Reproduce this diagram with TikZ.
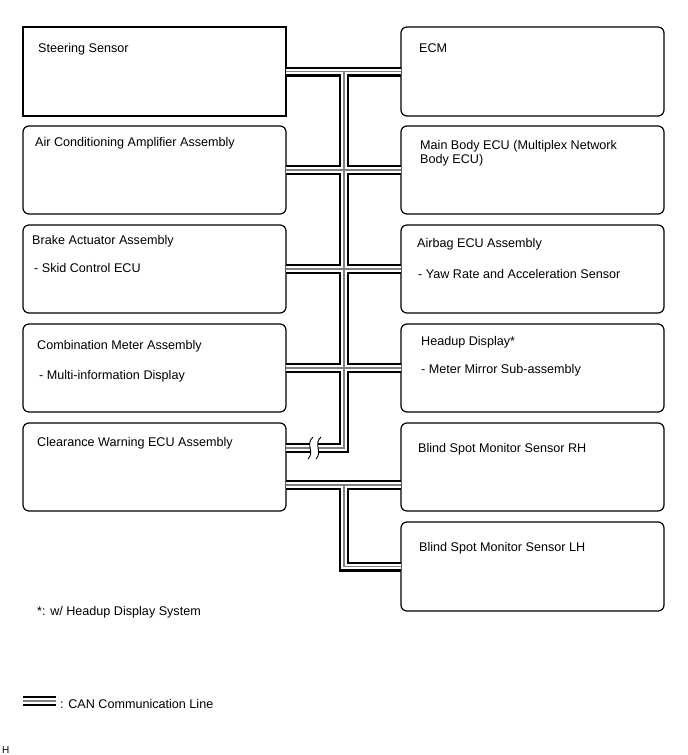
\documentclass[tikz,border=0pt]{standalone}
\usepackage{fontspec}
\setmainfont{Liberation Sans}
\begin{document}
\begin{tikzpicture}[x=1pt,y=-1pt,
  box/.style={draw=black, line width=1.2pt, rounded corners=6pt, minimum width=263pt, minimum height=88pt, inner sep=0pt, outer sep=0pt},
  sharpbox/.style={box, sharp corners, line width=1.1pt},
  txt/.style={anchor=base west, inner sep=0pt, font=\fontsize{12.6}{14}\selectfont},
  small/.style={anchor=base west, inner sep=0pt, font=\fontsize{10}{12}\selectfont},
  brk/.style={line width=0.9pt, black}
]
\useasboundingbox (0,0) rectangle (688,755);
% left boxes
\node[sharpbox, minimum height=89pt] (steer) at (154.5,71.5) {};
\node[box] (aircon) at (154.5,170) {};
\node[box] (brake) at (154.5,269) {};
\node[box] (combi) at (154.5,368) {};
\node[box] (clear) at (154.5,467) {};
% right boxes
\node[box, minimum height=89pt] (ecm) at (532.5,71.5) {};
\node[box] (mainbody) at (532.5,170) {};
\node[box] (airbag) at (532.5,269) {};
\node[box] (headup) at (532.5,368) {};
\node[box] (bsmrh) at (532.5,467) {};
\node[box, minimum height=89pt] (bsmlh) at (532.5,566.5) {};
% texts
\node[txt] (t1) at (38,52) {Steering Sensor};
\node[txt] (t2) at (35,146) {Air Conditioning Amplifier Assembly};
\node[txt] (t3) at (32,244) {Brake Actuator Assembly};
\node[txt] (t3b) at (34,272) {- Skid Control ECU};
\node[txt] (t4) at (37,349) {Combination Meter Assembly};
\node[txt] (t4b) at (39,379) {- Multi-information Display};
\node[txt] (t5) at (37,446) {Clearance Warning ECU Assembly};
\node[txt] (r1) at (419,52) {ECM};
\node[txt] (r2) at (420,149) {Main Body ECU (Multiplex Network};
\node[txt] (r2b) at (420,163) {Body ECU)};
\node[txt] (r3) at (417,247) {Airbag ECU Assembly};
\node[txt] (r3b) at (418,278) {- Yaw Rate and Acceleration Sensor};
\node[txt] (r4) at (421,345) {Headup Display*};
\node[txt] (r4b) at (421,373) {- Meter Mirror Sub-assembly};
\node[txt] (r5) at (418,452) {Blind Spot Monitor Sensor RH};
\node[txt] (r6) at (419,551) {Blind Spot Monitor Sensor LH};
\node[txt] (note) at (37,615) {*: w/ Headup Display System};
\node[txt] (leg) at (60,708) {: CAN Communication Line};
\node[small] (hh) at (2,753) {H};
% bus coordinates
\coordinate (j1) at (344,71.5);
\coordinate (j5) at (344,448);
\coordinate (c1) at (clear.east |- j5);
\coordinate (k1) at (344,485);
\coordinate (k2) at (344,566.5);
\coordinate (lg1) at (23,701);
\coordinate (lg2) at (56,701);
% bus lines, layered
\foreach \w/\c in {10/black,5.5/white,1.1/gray}{
  \draw[line width=\w pt, draw=\c] (steer.east) -- (ecm.west);
  \draw[line width=\w pt, draw=\c] (aircon.east) -- (mainbody.west);
  \draw[line width=\w pt, draw=\c] (brake.east) -- (airbag.west);
  \draw[line width=\w pt, draw=\c] (combi.east) -- (headup.west);
  \draw[line width=\w pt, draw=\c] (j1) -- (j5) -- (c1);
  \draw[line width=\w pt, draw=\c] (clear.east |- k1) -- (bsmrh.west |- k1);
  \draw[line width=\w pt, draw=\c] (k1) -- (k2) -- (bsmlh.west);
  \draw[line width=\w pt, draw=\c] (lg1) -- (lg2);
}
% break symbol
\fill[white] (313,437) .. controls (305,444) and (315,452) .. (308,459)
  -- (316,459) .. controls (323,452) and (313,444) .. (321,437) -- cycle;
\draw[brk] (313,437) .. controls (305,444) and (315,452) .. (308,459);
\draw[brk] (321,437) .. controls (313,444) and (323,452) .. (316,459);
\end{tikzpicture}
\end{document}
